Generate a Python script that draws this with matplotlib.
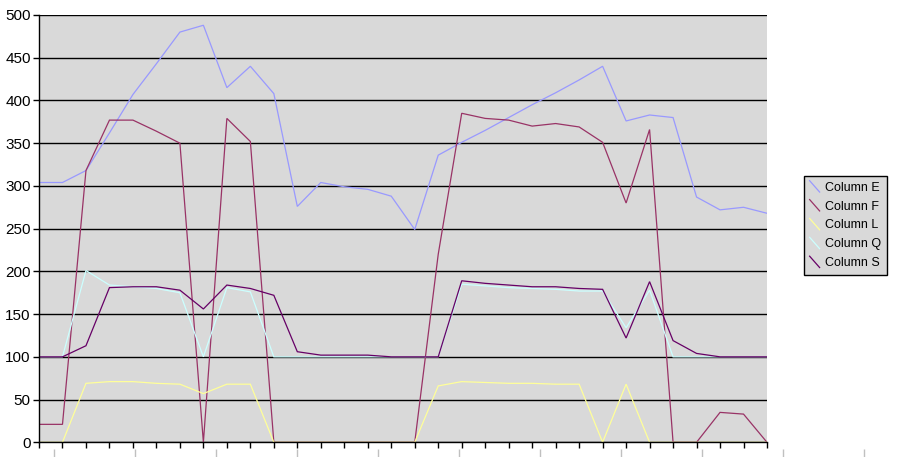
import numpy as np
import matplotlib
matplotlib.use('Agg')
import matplotlib.pyplot as plt
from matplotlib.lines import Line2D
from matplotlib.legend_handler import HandlerLine2D

plt.rcParams['font.family'] = ['Liberation Sans', 'DejaVu Sans']

######## data
col_e = [304, 304, 318, 362, 407, 443, 480, 488, 415, 440, 408, 276,
         304, 299, 296, 288, 249, 336, 351, 365, 380, 395, 409, 424,
         440, 376, 383, 380, 287, 272, 275, 268]
col_f = [21, 21, 318, 377, 377, 364, 350, 0, 379, 352, 0, 0,
         0, 0, 0, 0, 0, 220, 385, 379, 377, 370, 373, 369,
         351, 280, 366, 0, 0, 35, 33, 0]
col_l = [0, 0, 69, 71, 71, 69, 68, 57, 68, 68, 0, 0,
         0, 0, 0, 0, 0, 66, 71, 70, 69, 69, 68, 68,
         0, 68, 0, 0, 0, 0, 0, 0]
col_q = [100, 100, 201, 184, 182, 180, 175, 100, 181, 176, 100, 100,
         100, 100, 100, 100, 100, 100, 185, 183, 181, 180, 179, 177,
         177, 134, 178, 100, 100, 100, 100, 100]
col_s = [100, 100, 113, 181, 182, 182, 178, 156, 184, 180, 172, 106,
         102, 102, 102, 100, 100, 100, 189, 186, 184, 182, 182, 180,
         179, 122, 188, 119, 104, 100, 100, 100]

names = ['Column E', 'Column F', 'Column L', 'Column Q', 'Column S']
colors = ['#9999FF', '#993366', '#FFFF99', '#CCFFFF', '#660066']
series = [col_e, col_f, col_l, col_q, col_s]


class DiagHandler(HandlerLine2D):
    # excel style legend key: a short diagonal stroke
    def create_artists(self, legend, orig_handle, xdescent, ydescent,
                       width, height, fontsize, trans):
        ln = Line2D([-xdescent, -xdescent + width],
                    [-ydescent + height * 1.15, -ydescent - height * 0.15])
        ln.update_from(orig_handle)
        ln.set_clip_on(False)
        ln.set_clip_path(None)
        ln.set_transform(trans)
        return [ln]


W, H = 898, 457
fig = plt.figure(figsize=(W / 100, H / 100), dpi=100)
ax = fig.add_axes([39 / W, (H - 442.3) / H, (767 - 39) / W, (442.3 - 15) / H])
ax.set_facecolor('#D9D9D9')

x = np.arange(len(col_e))
for s, n, c in zip(series, names, colors):
    ax.plot(x, s, color=c, lw=0.9, label=n, solid_joinstyle='miter')

ax.set_xlim(0, len(col_e) - 1)
ax.set_ylim(0, 500)
ax.set_yticks(np.arange(0, 501, 50))
ax.set_xticks(x)
ax.set_xticklabels([])
ax.yaxis.grid(True, color='black', lw=1)
ax.set_axisbelow(True)
for sp in ['top', 'right']:
    ax.spines[sp].set_visible(False)
for sp in ['left', 'bottom']:
    ax.spines[sp].set_color('black')
    ax.spines[sp].set_linewidth(1)
ax.tick_params(axis='both', direction='out', length=4, width=1, color='black')
ax.tick_params(axis='y', labelsize=11, pad=2)

# the faint second row of ticks under the axis
ax2 = fig.add_axes([0, 0, 1, 0.001])
ax2.set_xlim(0, W)
ax2.set_xticks(np.arange(54, W, 81))
ax2.set_xticklabels([])
ax2.set_yticks([])
ax2.tick_params(axis='x', direction='in', length=5.5, width=1, color='#C0C0C0')
ax2.patch.set_visible(False)
for sp in ax2.spines.values():
    sp.set_visible(False)

leg = ax.legend(loc='center left', bbox_to_anchor=(804 / W, (H - 225.5) / H),
                bbox_transform=fig.transFigure, frameon=True, fancybox=False,
                edgecolor='black', facecolor='#D9D9D9', framealpha=1,
                fontsize=9, handlelength=0.8, handletextpad=0.45,
                labelspacing=0.55, borderpad=0.45, borderaxespad=0,
                handler_map={Line2D: DiagHandler()})
leg.get_frame().set_linewidth(1)

fig.savefig('out.png', dpi=100)
